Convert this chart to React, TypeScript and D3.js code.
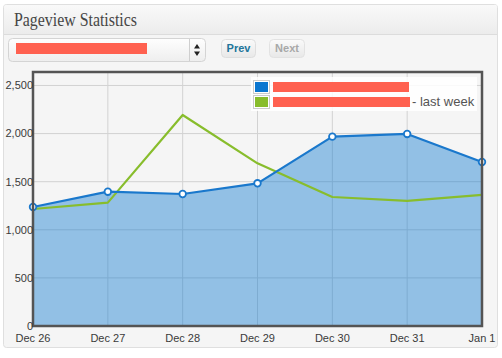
import React from "react";
import * as d3 from "d3";

const days = ["Dec 26", "Dec 27", "Dec 28", "Dec 29", "Dec 30", "Dec 31", "Jan 1"];
const thisWeek = [1237, 1396, 1372, 1483, 1968, 1996, 1705];
const lastWeek = [1216, 1282, 2193, 1691, 1341, 1300, 1362];
const yTicks = [0, 500, 1000, 1500, 2000, 2500];

const W = 502;
const H = 358;
const plot = { left: 33, right: 482, top: 72, bottom: 326 };

const x = d3.scalePoint<string>().domain(days).range([plot.left, plot.right]);
const y = d3.scaleLinear().domain([0, 2640]).range([plot.bottom, plot.top]);

const fmt = d3.format(",");

export default function App() {
  const line = d3
    .line<number>()
    .x((_, i) => x(days[i]) as number)
    .y((d) => y(d));
  const area = d3
    .area<number>()
    .x((_, i) => x(days[i]) as number)
    .y0(y(0))
    .y1((d) => y(d));

  const sans = "'Liberation Sans', Arial, sans-serif";

  return (
    <svg
      width={W}
      height={H}
      style={{ position: "absolute", left: 0, top: 0, background: "#fff" }}
    >
      <defs>
        <linearGradient id="hdr" x1="0" y1="0" x2="0" y2="1">
          <stop offset="0" stopColor="#f9f9f9" />
          <stop offset="1" stopColor="#ececec" />
        </linearGradient>
        <linearGradient id="sel" x1="0" y1="0" x2="0" y2="1">
          <stop offset="0" stopColor="#fefefe" />
          <stop offset="1" stopColor="#eeeeee" />
        </linearGradient>
        <linearGradient id="btn" x1="0" y1="0" x2="0" y2="1">
          <stop offset="0" stopColor="#fafafa" />
          <stop offset="1" stopColor="#e8e8e8" />
        </linearGradient>
      </defs>

      {/* panel */}
      <rect x={3.5} y={4.5} width={494} height={343} rx={3} fill="#f5f5f5" stroke="#dfdfdf" />
      <path d="M4,34 V7 Q4,5 6,5 H496 Q497,5 497,7 V34 Z" fill="url(#hdr)" />
      <line x1={4} x2={497} y1={34.5} y2={34.5} stroke="#dcdcdc" />
      <text
        x={14}
        y={26}
        fontFamily="'Liberation Serif', Georgia, serif"
        fontSize={18}
        textLength={123}
        lengthAdjust="spacingAndGlyphs"
        fill="#464646"
      >
        Pageview Statistics
      </text>

      {/* controls */}
      <rect x={8.5} y={38.5} width={197} height={23} rx={4} fill="url(#sel)" stroke="#d4d4d4" />
      <line x1={189.5} x2={189.5} y1={39} y2={61} stroke="#cfcfcf" />
      <path d="M194,48.5 L197,44 L200,48.5 Z M194,51.5 L197,56 L200,51.5 Z" fill="#222" />
      <rect x={16} y={43} width={131} height={11} fill="#ff6150" />
      <rect x={221.5} y={39.5} width={34} height={18} rx={4} fill="url(#btn)" stroke="#dedede" />
      <text x={238.5} y={52} textAnchor="middle" fontFamily={sans} fontSize={11} fontWeight="bold" fill="#21759b">
        Prev
      </text>
      <rect x={269.5} y={39.5} width={35} height={18} rx={4} fill="url(#btn)" stroke="#e2e2e2" />
      <text x={287} y={52} textAnchor="middle" fontFamily={sans} fontSize={11} fontWeight="bold" fill="#a8a8a8">
        Next
      </text>

      {/* grid */}
      <rect x={plot.left} y={plot.top} width={plot.right - plot.left} height={plot.bottom - plot.top} fill="#f5f5f5" />
      {yTicks.map((t) => (
        <line key={t} x1={plot.left} x2={plot.right} y1={y(t)} y2={y(t)} stroke="#d2d2d2" />
      ))}
      {days.map((d) => (
        <line key={d} x1={x(d)} x2={x(d)} y1={plot.top} y2={plot.bottom} stroke="#d2d2d2" />
      ))}

      {/* series */}
      <path d={area(thisWeek) as string} fill="#0a76d0" fillOpacity={0.42} />
      <path d={line(lastWeek) as string} fill="none" stroke="#88bd2c" strokeWidth={2.2} strokeLinejoin="round" />
      <path d={line(thisWeek) as string} fill="none" stroke="#1a78cc" strokeWidth={2.2} strokeLinejoin="round" />
      {thisWeek.map((v, i) => (
        <circle key={i} cx={x(days[i])} cy={y(v)} r={3.3} fill="#fff" stroke="#1a78cc" strokeWidth={1.8} />
      ))}

      {/* frame */}
      <rect
        x={plot.left}
        y={plot.top}
        width={plot.right - plot.left}
        height={plot.bottom - plot.top}
        fill="none"
        stroke="#545454"
        strokeWidth={2.5}
      />

      {/* axes labels */}
      {yTicks.map((t) => (
        <text key={t} x={plot.left} y={y(t)} dy="0.35em" textAnchor="end" fontFamily={sans} fontSize={11} fill="#3a3a3a">
          {fmt(t)}
        </text>
      ))}
      {days.map((d) => (
        <text key={d} x={x(d)} y={342} textAnchor="middle" fontFamily={sans} fontSize={11} fill="#3a3a3a">
          {d}
        </text>
      ))}

      {/* legend */}
      <rect x={251} y={77} width={226} height={34} fill="#fff" fillOpacity={0.85} />
      <rect x={253.5} y={80.5} width={16} height={13} fill="#fff" stroke="#ccc" />
      <rect x={255} y={82} width={13} height={10} fill="#0a76d0" />
      <rect x={253.5} y={95.5} width={16} height={13} fill="#fff" stroke="#ccc" />
      <rect x={255} y={97} width={13} height={10} fill="#88bd2c" />
      <rect x={273} y={82} width={136} height={10} fill="#ff6150" />
      <rect x={273} y={97} width={137} height={10} fill="#ff6150" />
      <text x={412} y={106} fontFamily={sans} fontSize={13} fill="#545454">
        - last week
      </text>
    </svg>
  );
}
